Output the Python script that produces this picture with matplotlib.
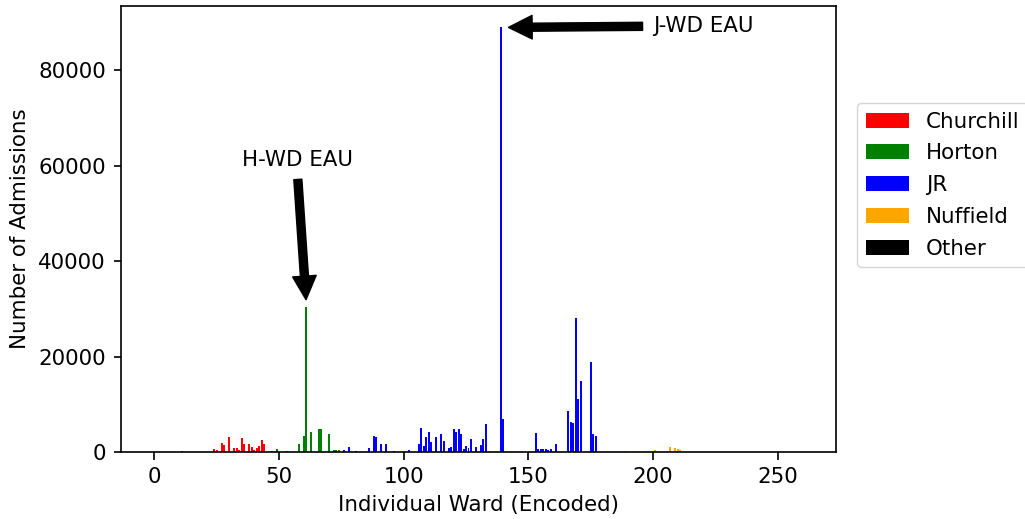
import matplotlib.pyplot as plt

# admissions per encoded ward, grouped by hospital
churchill_wards = [11, 24, 25, 27, 28, 30, 32, 33, 34, 35, 36, 38, 39, 40, 41, 42, 43, 44]
churchill_counts = [200, 700, 500, 1950, 1400, 3200, 900, 900, 350, 3000, 1750, 1600, 1100, 350, 900, 1200, 2600, 1750]

horton_wards = [47, 49, 53, 58, 60, 61, 63, 66, 67, 70, 72, 73, 74]
horton_counts = [280, 700, 280, 1750, 3400, 30500, 4250, 4900, 4900, 3800, 500, 500, 500]

jr_wards = [76, 78, 81, 86, 88, 89, 91, 93, 96, 102, 106, 107, 108, 109, 110, 111, 113, 115, 116,
            118, 119, 120, 121, 122, 123, 124, 125, 126, 127, 129, 131, 132, 133, 139, 140,
            153, 154, 155, 156, 157, 158, 159, 161, 166, 167, 168, 169, 170, 171, 175, 176, 177]
jr_counts = [500, 1100, 280, 900, 3400, 3200, 1750, 1750, 280, 500, 1750, 5100, 1300, 3200, 4250, 2150, 3200, 3800, 2350,
             900, 1100, 4900, 4250, 4900, 3800, 700, 1300, 900, 2800, 1100, 1500, 2800, 5900, 89000, 7000,
             3900, 600, 600, 600, 600, 400, 600, 1600, 8700, 6200, 6000, 28000, 11200, 14800, 18800, 3700, 3300]

nuffield_wards = [189, 201, 207, 209, 210, 211]
nuffield_counts = [280, 500, 1100, 850, 630, 420]

other_wards = [0, 2, 215, 230, 245, 260]
other_counts = [20, 15, 10, 25, 12, 18]

FS = 15.4
fig = plt.figure(figsize=(10.25, 5.19), dpi=100)
ax = fig.add_axes([0.118, 0.129, 0.6976, 0.859])

ax.bar(churchill_wards, churchill_counts, color="red", label="Churchill")
ax.bar(horton_wards, horton_counts, color="green", label="Horton")
ax.bar(jr_wards, jr_counts, color="blue", label="JR")
ax.bar(nuffield_wards, nuffield_counts, color="orange", label="Nuffield")
ax.bar(other_wards, other_counts, color="black", label="Other")

arrow = dict(facecolor="black", shrink=0.05, width=5.8, headwidth=17, headlength=17)
ax.annotate("J-WD EAU", xy=(139, 89000), xytext=(200, 88000), fontsize=FS, arrowprops=arrow)
ax.annotate("H-WD EAU", xy=(61, 30500), xytext=(35, 60000), fontsize=FS, arrowprops=arrow)

ax.set_xlabel("Individual Ward (Encoded)", fontsize=FS, labelpad=6)
ax.set_ylabel("Number of Admissions", fontsize=FS, labelpad=6)
ax.tick_params(labelsize=FS, length=5.4, width=1.2, pad=5.4)
for s in ax.spines.values():
    s.set_linewidth(1.2)

ax.legend(loc="upper left", bbox_to_anchor=(1.03, 0.783), borderaxespad=0,
          fontsize=FS, labelspacing=0.55)

fig.savefig("out.png", dpi=100)
